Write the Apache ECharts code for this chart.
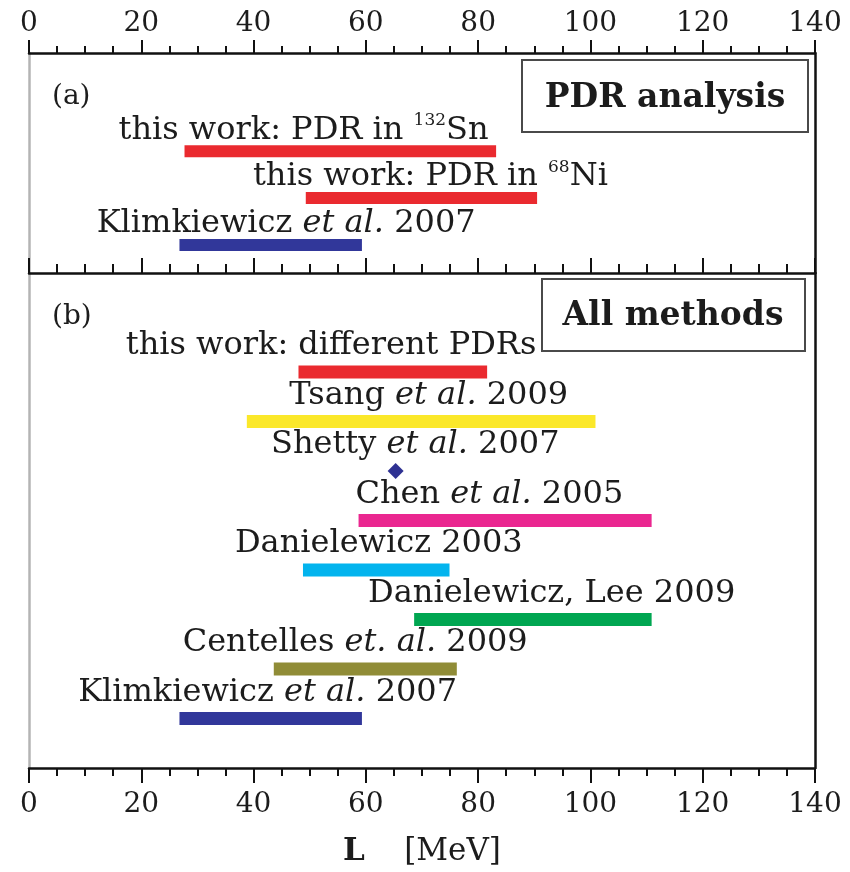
<!DOCTYPE html>
<html>
<head>
<meta charset="utf-8">
<script src="https://cdn.jsdelivr.net/npm/echarts@6/dist/echarts.min.js"></script>
<style>
  html, body { margin: 0; padding: 0; background: #ffffff; }
  #chart { width: 850px; height: 872px; }
</style>
</head>
<body>
<div id="chart"></div>
<script>
// ---- data -------------------------------------------------------------
// tick values of the slope parameter axis L (MeV)
const xTicks = [0, 20, 40, 60, 80, 100, 120, 140];

// (a) PDR analysis: constraints on L
const pdrLabels = [
  'this work: PDR in {sup|132}Sn',
  'this work: PDR in {sup|68}Ni',
  'Klimkiewicz {it|et al.} 2007'
];
const pdrLow  = [27.7, 49.3, 26.8];
const pdrHigh = [83.2, 90.5, 59.3];

// (b) all methods: constraints on L
const allLabels = [
  'this work: different PDRs',
  'Tsang {it|et al.} 2009',
  'Shetty {it|et al.} 2007',
  'Chen {it|et al.} 2005',
  'Danielewicz 2003',
  'Danielewicz, Lee 2009',
  'Centelles {it|et. al.} 2009',
  'Klimkiewicz {it|et al.} 2007'
];
const allLow  = [48.0, 38.8, null, 58.7, 48.8, 68.6, 43.6, 26.8];
const allHigh = [81.6, 100.9, null, 110.9, 74.9, 110.9, 76.2, 59.3];
// single-value result (Shetty et al. 2007)
const allPoint = [null, null, 65.3, null, null, null, null, null];

// ---- layout & style -----------------------------------------------------
const FONT = 'DejaVu Serif';
const INK = '#1c1c1c';
const colorsA = ['#ea2a2f', '#ea2a2f', '#31379a'];
const colorsB = ['#ea2a2f', '#fbe82a', '#2e3192', '#ea2790', '#03b4ee', '#00a651', '#908c37', '#31379a'];
// horizontal centre of each caption, in L units
const captionXA = [48.9, 71.5, 45.8];
const captionXB = [53.8, 71.2, 68.8, 82.0, 62.3, 93.1, 58.1, 42.5];
const FIRST_ROW = 2;          // first occupied row in each panel
const BAR_A = 12, BAR_B = 13; // bar thickness (px)
const CAP_A = -21, CAP_B = -26; // caption offset above its bar (px)

const rich = {
  it:  { fontFamily: FONT, fontSize: 32, fontStyle: 'italic', color: INK, lineHeight: 36 },
  sup: { fontFamily: FONT, fontSize: 17, color: INK, verticalAlign: 'top', lineHeight: 20 }
};

function barRenderer(colors, thick) {
  return function (params, api) {
    const a = api.coord([api.value(0), api.value(2)]);
    const b = api.coord([api.value(1), api.value(2)]);
    return {
      type: 'rect',
      shape: { x: a[0], y: a[1] - thick / 2, width: b[0] - a[0], height: thick },
      style: { fill: colors[api.value(3)] }
    };
  };
}

function captionRenderer(texts, dy) {
  return function (params, api) {
    const p = api.coord([api.value(0), api.value(1)]);
    return {
      type: 'text',
      x: p[0], y: p[1] + dy,
      style: {
        text: texts[params.dataIndex],
        rich: rich,
        fontFamily: FONT, fontSize: 32, fill: INK,
        align: 'center', verticalAlign: 'middle', lineHeight: 36
      }
    };
  };
}

// series data built from the arrays above
const barsA = pdrLow.map((lo, i) => [lo, pdrHigh[i], i + FIRST_ROW, i]);
const barsB = [];
allLow.forEach((lo, i) => { if (lo !== null) barsB.push([lo, allHigh[i], i + FIRST_ROW, i]); });
const pointsB = [];
allPoint.forEach((v, i) => { if (v !== null) pointsB.push([v, i + FIRST_ROW]); });
const capsA = captionXA.map((x, i) => [x, i + FIRST_ROW]);
const capsB = captionXB.map((x, i) => [x, i + FIRST_ROW]);

const lineBlack = { color: '#111', width: 2.5 };
const tickBlack = { color: '#111', width: 2 };

function xAxisBase(grid) {
  return {
    gridIndex: grid, type: 'value',
    min: xTicks[0], max: xTicks[xTicks.length - 1], interval: xTicks[1] - xTicks[0],
    splitLine: { show: false }, minorSplitLine: { show: false },
    axisLine: { show: true, onZero: false, lineStyle: lineBlack }
  };
}
function yAxisBase(grid, min, max, pos, color) {
  return {
    gridIndex: grid, type: 'value', min: min, max: max, inverse: true, position: pos,
    axisLine: { show: true, onZero: false, lineStyle: { color: color, width: 2.5 } },
    axisTick: { show: false }, axisLabel: { show: false }, splitLine: { show: false }
  };
}

const option = {
  animation: false,
  backgroundColor: '#ffffff',
  grid: [
    { left: 29, right: 35, top: 53, height: 220 },
    { left: 29, right: 35, top: 273, height: 500 }
  ],
  xAxis: [
    Object.assign(xAxisBase(0), {
      position: 'top',
      axisTick: { show: true, inside: false, length: 13, lineStyle: tickBlack },
      minorTick: { show: true, splitNumber: 4, length: 7, lineStyle: tickBlack },
      axisLabel: { show: true, margin: 15, fontFamily: FONT, fontSize: 28, color: INK }
    }),
    Object.assign(xAxisBase(0), {
      position: 'bottom',
      axisTick: { show: true, inside: true, length: 15, lineStyle: tickBlack },
      minorTick: { show: true, splitNumber: 4, length: 9, lineStyle: tickBlack },
      axisLabel: { show: false }
    }),
    Object.assign(xAxisBase(1), {
      position: 'bottom',
      axisTick: { show: true, inside: false, length: 15, lineStyle: tickBlack },
      minorTick: { show: true, splitNumber: 4, length: 8, lineStyle: tickBlack },
      axisLabel: { show: true, margin: 23, fontFamily: FONT, fontSize: 28, color: INK },
      name: '{b|L}    [MeV]',
      nameLocation: 'middle',
      nameGap: 68,
      nameTextStyle: {
        fontFamily: FONT, fontSize: 31, color: INK,
        rich: { b: { fontFamily: FONT, fontSize: 31, fontWeight: 'bold', color: INK } }
      }
    })
  ],
  yAxis: [
    yAxisBase(0, -0.1, 4.6, 'left', '#b4b4b4'),
    yAxisBase(0, -0.1, 4.6, 'right', '#111'),
    yAxisBase(1, 0, 10, 'left', '#b4b4b4'),
    yAxisBase(1, 0, 10, 'right', '#111')
  ],
  series: [
    { type: 'custom', name: 'PDR ranges', xAxisIndex: 0, yAxisIndex: 0,
      renderItem: barRenderer(colorsA, BAR_A), data: barsA, clip: false },
    { type: 'custom', name: 'PDR captions', xAxisIndex: 0, yAxisIndex: 0,
      renderItem: captionRenderer(pdrLabels, CAP_A), data: capsA, clip: false, silent: true },
    { type: 'custom', name: 'All ranges', xAxisIndex: 2, yAxisIndex: 2,
      renderItem: barRenderer(colorsB, BAR_B), data: barsB, clip: false },
    { type: 'scatter', name: 'Shetty', xAxisIndex: 2, yAxisIndex: 2,
      symbol: 'diamond', symbolSize: [16, 16],
      itemStyle: { color: colorsB[2], opacity: 1 }, data: pointsB },
    { type: 'custom', name: 'All captions', xAxisIndex: 2, yAxisIndex: 2,
      renderItem: captionRenderer(allLabels, CAP_B), data: capsB, clip: false, silent: true }
  ],
  graphic: [
    { type: 'text', left: 52, top: 83,
      style: { text: '(a)', fontFamily: FONT, fontSize: 28, fill: INK } },
    { type: 'text', left: 52, top: 303,
      style: { text: '(b)', fontFamily: FONT, fontSize: 28, fill: INK } },
    { type: 'rect', shape: { x: 522, y: 60, width: 286, height: 72 },
      style: { fill: '#ffffff', stroke: '#4a4a4a', lineWidth: 2 } },
    { type: 'text', x: 665, y: 98,
      style: { text: 'PDR analysis', fontFamily: FONT, fontSize: 33, fontWeight: 'bold',
               fill: INK, align: 'center', verticalAlign: 'middle' } },
    { type: 'rect', shape: { x: 542, y: 279, width: 263, height: 72 },
      style: { fill: '#ffffff', stroke: '#4a4a4a', lineWidth: 2 } },
    { type: 'text', x: 673, y: 316,
      style: { text: 'All methods', fontFamily: FONT, fontSize: 33, fontWeight: 'bold',
               fill: INK, align: 'center', verticalAlign: 'middle' } }
  ]
};

const chart = echarts.init(document.getElementById('chart'), null, { renderer: 'canvas' });
chart.setOption(option);
</script>
</body>
</html>
